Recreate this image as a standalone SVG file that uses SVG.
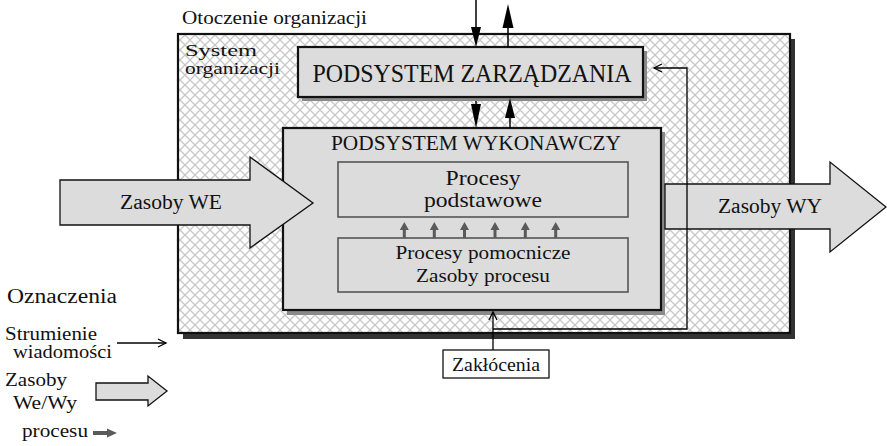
<svg xmlns="http://www.w3.org/2000/svg" width="887" height="446" viewBox="0 0 887 446">
  <defs>
    <pattern id="hatch" patternUnits="userSpaceOnUse" width="10" height="10">
      <rect width="10" height="10" fill="#ffffff"/>
      <path d="M0,0 L10,10 M10,0 L0,10 M-1,9 L1,11 M9,-1 L11,1" stroke="#c8c8c8" stroke-width="1.3" fill="none"/>
    </pattern>
    <marker id="open" markerUnits="userSpaceOnUse" markerWidth="12" markerHeight="10" refX="9" refY="5" orient="auto">
      <path d="M1,1 L9,5 L1,9" fill="none" stroke="#000" stroke-width="1.3"/>
    </marker>
  </defs>
  <style>
    text { font-family: "Liberation Serif", "Times New Roman", serif; fill: #111; }
    .box { fill: #dcdcdc; stroke: #111; stroke-width: 2.2; }
    .inner { fill: #dcdcdc; stroke: #555; stroke-width: 1.6; }
    .shadow { fill: #8a8a8a; }
    .big { fill: #dcdcdc; stroke: #111; stroke-width: 1.3; }
    .thin { fill: none; stroke: #000; stroke-width: 1.3; }
    .gray { fill: #5a5a5a; }
    .mid { text-anchor: middle; }
  </style>

  <!-- environment label -->
  <text x="182" y="24" font-size="19.5" textLength="185" lengthAdjust="spacingAndGlyphs">Otoczenie organizacji</text>

  <!-- organisation system frame -->
  <g id="system">
    <rect x="183" y="39" width="612" height="300" fill="#333"/>
    <rect x="178" y="34" width="612" height="299" fill="url(#hatch)" stroke="#111" stroke-width="2.2"/>
    <text x="185" y="56" font-size="17" textLength="72" lengthAdjust="spacingAndGlyphs">System</text>
    <text x="185" y="74" font-size="17" textLength="95" lengthAdjust="spacingAndGlyphs">organizacji</text>
  </g>

  <!-- management subsystem -->
  <g id="zarzadzanie">
    <rect class="shadow" x="302" y="51" width="345" height="50"/>
    <rect class="box" x="298" y="47" width="345" height="50"/>
    <text class="mid" x="472" y="82" font-size="25" textLength="319" lengthAdjust="spacingAndGlyphs">PODSYSTEM ZARZĄDZANIA</text>
  </g>

  <!-- execution subsystem -->
  <g id="wykonawczy">
    <rect class="shadow" x="287" y="132" width="378" height="183"/>
    <rect class="box" x="283" y="128" width="378" height="182"/>
    <text class="mid" x="476" y="150" font-size="21" textLength="290" lengthAdjust="spacingAndGlyphs">PODSYSTEM WYKONAWCZY</text>
  </g>

  <g id="podstawowe">
    <rect class="inner" x="338" y="162" width="290" height="55"/>
    <text class="mid" x="483" y="185" font-size="21" textLength="75" lengthAdjust="spacingAndGlyphs">Procesy</text>
    <text class="mid" x="483" y="207" font-size="21" textLength="118" lengthAdjust="spacingAndGlyphs">podstawowe</text>
  </g>

  <g id="pomocnicze">
    <rect class="inner" x="338" y="238" width="290" height="54"/>
    <text class="mid" x="483" y="259" font-size="19.5" textLength="175" lengthAdjust="spacingAndGlyphs">Procesy pomocnicze</text>
    <text class="mid" x="483" y="282" font-size="19.5" textLength="134" lengthAdjust="spacingAndGlyphs">Zasoby procesu</text>
  </g>

  <!-- process resource arrows -->
  <g id="strzalki-procesu" class="gray">
    <rect x="402.8" y="229" width="3" height="9"/><polygon points="404.3,222 399.8,230 408.8,230"/>
    <rect x="432.8" y="229" width="3" height="9"/><polygon points="434.3,222 429.8,230 438.8,230"/>
    <rect x="463" y="229" width="3" height="9"/><polygon points="464.5,222 460,230 469,230"/>
    <rect x="493.5" y="229" width="3" height="9"/><polygon points="495,222 490.5,230 499.5,230"/>
    <rect x="523.8" y="229" width="3" height="9"/><polygon points="525.3,222 520.8,230 529.8,230"/>
    <rect x="554.2" y="229" width="3" height="9"/><polygon points="555.7,222 551.2,230 560.2,230"/>
  </g>

  <!-- input resources -->
  <g id="zasoby-we">
    <polygon class="big" points="60,180 250,180 250,157 313,203 250,248 250,225 60,225"/>
    <text class="mid" x="171" y="209" font-size="20" textLength="102" lengthAdjust="spacingAndGlyphs">Zasoby WE</text>
  </g>

  <!-- output resources -->
  <g id="zasoby-wy">
    <polygon class="big" points="665,184 830,184 830,162 886,207 830,252 830,229 665,229"/>
    <text class="mid" x="770" y="213" font-size="20" textLength="104" lengthAdjust="spacingAndGlyphs">Zasoby WY</text>
  </g>

  <!-- disturbances -->
  <g id="zaklocenia">
    <rect x="443" y="350" width="106" height="28" fill="#fff" stroke="#111" stroke-width="1.3"/>
    <text class="mid" x="496" y="371" font-size="18.5" textLength="88" lengthAdjust="spacingAndGlyphs">Zakłócenia</text>
  </g>

  <!-- connectors -->
  <g id="connectors">
    <path class="thin" d="M493,329 H687 V68 H654" marker-end="url(#open)"/>
    <path class="thin" d="M493,350 V312" marker-end="url(#open)"/>
    <!-- environment <-> management -->
    <line x1="476" y1="0" x2="476" y2="30" stroke="#000" stroke-width="1.5"/>
    <polygon points="476,47 471,27 481,27" fill="#000"/>
    <line x1="508" y1="47" x2="508" y2="25" stroke="#000" stroke-width="1.5"/>
    <polygon points="508,4 502.5,28 513.5,28" fill="#000"/>
    <!-- management <-> execution -->
    <line x1="476" y1="101" x2="476" y2="108" stroke="#000" stroke-width="1.5"/>
    <polygon points="476,128 471,104 481,104" fill="#000"/>
    <line x1="510" y1="128" x2="510" y2="115" stroke="#000" stroke-width="1.5"/>
    <polygon points="510,98 505,118 515,118" fill="#000"/>
  </g>

  <!-- legend -->
  <g id="legenda">
    <text x="7" y="303" font-size="20.5" textLength="110" lengthAdjust="spacingAndGlyphs">Oznaczenia</text>
    <text x="5" y="340" font-size="18" textLength="92" lengthAdjust="spacingAndGlyphs">Strumienie</text>
    <text x="13" y="358" font-size="18" textLength="99" lengthAdjust="spacingAndGlyphs">wiadomości</text>
    <path class="thin" d="M117,343 H166" marker-end="url(#open)"/>
    <text x="5" y="386" font-size="18" textLength="62" lengthAdjust="spacingAndGlyphs">Zasoby</text>
    <text x="13" y="409" font-size="18" textLength="64" lengthAdjust="spacingAndGlyphs">We/Wy</text>
    <polygon class="big" points="96,383 148,383 148,376 167,391 148,406 148,400 96,400"/>
    <text x="22" y="437" font-size="18" textLength="66" lengthAdjust="spacingAndGlyphs">procesu</text>
    <rect class="gray" x="93" y="431" width="15" height="4"/>
    <polygon class="gray" points="117,433 107,428.5 107,437.5"/>
  </g>
</svg>
